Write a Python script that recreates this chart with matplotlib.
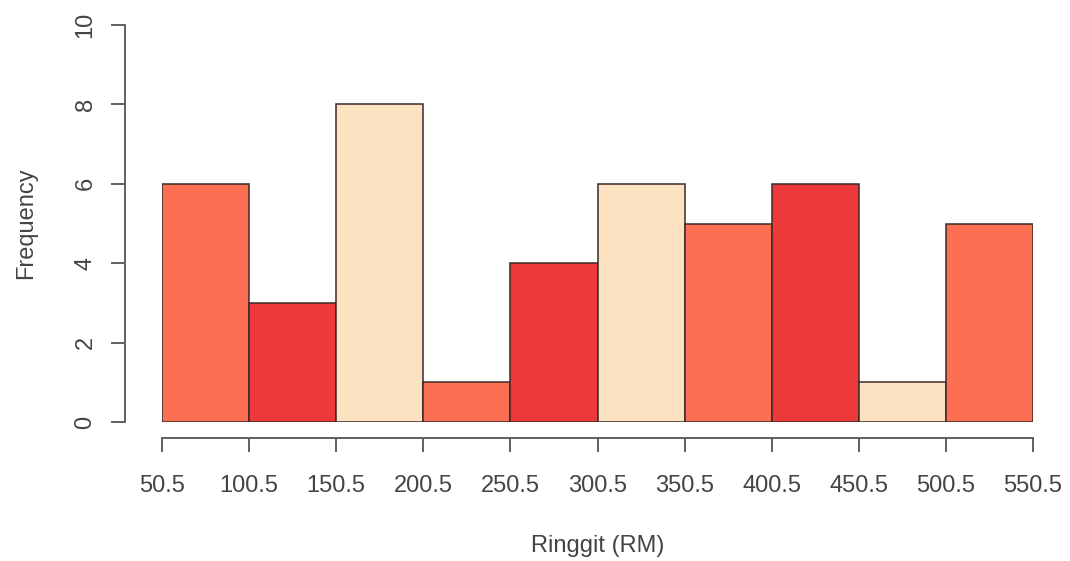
import matplotlib.pyplot as plt
import numpy as np

bin_edges = [50.5, 100.5, 150.5, 200.5, 250.5, 300.5, 350.5, 400.5, 450.5, 500.5, 550.5]
counts = [6, 3, 8, 1, 4, 6, 5, 6, 1, 5]
palette = ['#FD6F52', '#EC3A3A', '#FDE2C2']
yticks = [0, 2, 4, 6, 8, 10]

plt.rcParams['font.family'] = ['Liberation Sans', 'DejaVu Sans']

fig = plt.figure(figsize=(10.7, 5.61), dpi=100)
ax = fig.add_axes([162/1070, 1 - 422/561, (1033 - 162)/1070, (422 - 25)/561])

edges = np.array(bin_edges)
colors = [palette[i % 3] for i in range(len(counts))]
ax.bar(edges[:-1], counts, width=np.diff(edges), align='edge',
       color=colors, edgecolor='#3a2a26', linewidth=1.1)

ax.set_xlim(bin_edges[0], bin_edges[-1])
ax.set_ylim(0, 10)

for s in ['top', 'right']:
    ax.spines[s].set_visible(False)
axis_col = '#555555'
# outward offsets are in points (0.72 pt per px at dpi 100)
ax.spines['left'].set_position(('outward', 37 * 0.72))
ax.spines['bottom'].set_position(('outward', 16 * 0.72))
ax.spines['left'].set_bounds(0, 10)
ax.spines['bottom'].set_bounds(bin_edges[0], bin_edges[-1])
for s in ['left', 'bottom']:
    ax.spines[s].set_color(axis_col)
    ax.spines[s].set_linewidth(1.3)

ax.set_xticks(bin_edges)
ax.set_xticklabels([f'{v:.1f}' for v in bin_edges])
ax.set_yticks(yticks)
ax.tick_params(axis='both', colors=axis_col, labelcolor='#444444',
               length=10, width=1.3, labelsize=17)
ax.tick_params(axis='x', pad=17)
ax.tick_params(axis='y', pad=10.5)
for lbl in ax.get_yticklabels():
    lbl.set_rotation(90)
    lbl.set_va('center')

ax.set_xlabel('Ringgit (RM)', fontsize=17, color='#444444', labelpad=27)
ax.set_ylabel('Frequency', fontsize=17, color='#444444', labelpad=27)

fig.savefig('out.png', dpi=100)
